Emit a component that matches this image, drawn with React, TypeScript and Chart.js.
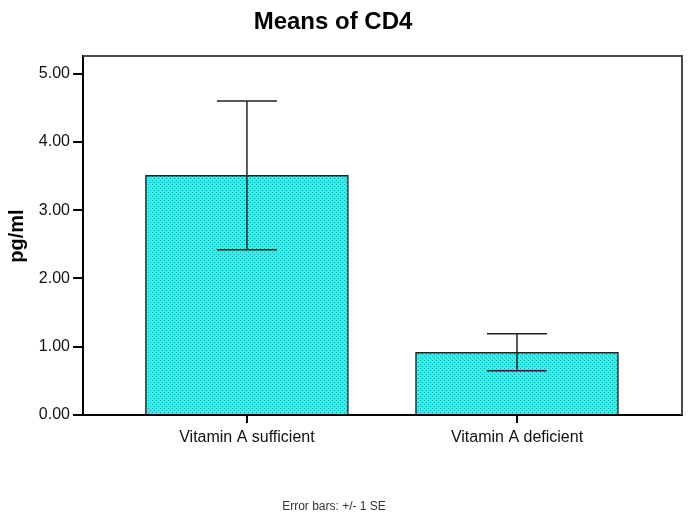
import React, { useEffect, useRef } from "react";
import { Chart, registerables } from "chart.js";

Chart.register(...registerables);

const categories = ["Vitamin A sufficient", "Vitamin A deficient"];
const means = [3.51, 0.92];
const standardErrors = [1.09, 0.27];
const yTicks = [0, 1, 2, 3, 4, 5];
const titleText = "Means of CD4";
const yTitleText = "pg/ml";
const footerText = "Error bars: +/- 1 SE";

const FONT = "Arial, 'Liberation Sans', sans-serif";

function makePattern(): CanvasPattern | string {
  const c = document.createElement("canvas");
  c.width = 4;
  c.height = 4;
  const ctx = c.getContext("2d");
  if (!ctx) return "#33ece8";
  ctx.fillStyle = "#33f0ec";
  ctx.fillRect(0, 0, 4, 4);
  ctx.fillStyle = "#1ca4a4";
  ctx.fillRect(0, 0, 1, 1);
  ctx.fillRect(2, 2, 1, 1);
  const p = ctx.createPattern(c, "repeat");
  return p || "#33ece8";
}

export default function App() {
  const ref = useRef<HTMLCanvasElement>(null);

  useEffect(() => {
    document.body.style.margin = "0";
    const canvas = ref.current;
    if (!canvas) return;

    const errorBars = {
      id: "errorBars",
      afterDatasetsDraw(chart: any) {
        const ctx = chart.ctx;
        const x = chart.scales.x;
        const y = chart.scales.y;
        ctx.save();
        ctx.strokeStyle = "#222";
        ctx.lineWidth = 1.5;
        means.forEach((m, i) => {
          const px = x.getPixelForValue(i + 1);
          const hi = y.getPixelForValue(m + standardErrors[i]);
          const lo = y.getPixelForValue(m - standardErrors[i]);
          ctx.beginPath();
          ctx.moveTo(px, hi);
          ctx.lineTo(px, lo);
          ctx.moveTo(px - 30, hi);
          ctx.lineTo(px + 30, hi);
          ctx.moveTo(px - 30, lo);
          ctx.lineTo(px + 30, lo);
          ctx.stroke();
        });
        ctx.restore();
      },
    };

    const decorations = {
      id: "decorations",
      afterDraw(chart: any) {
        const ctx = chart.ctx;
        const a = chart.chartArea;
        ctx.save();
        ctx.strokeStyle = "#4a4a4a";
        ctx.lineWidth = 2;
        ctx.beginPath();
        ctx.moveTo(a.left, a.top);
        ctx.lineTo(a.right, a.top);
        ctx.lineTo(a.right, a.bottom);
        ctx.stroke();
        ctx.fillStyle = "#000";
        ctx.textAlign = "center";
        ctx.textBaseline = "alphabetic";
        ctx.font = `bold 24px ${FONT}`;
        ctx.fillText(titleText, 333, 29);
        ctx.font = `12px ${FONT}`;
        ctx.fillStyle = "#333";
        ctx.fillText(footerText, 334, 510);
        ctx.translate(17, 236);
        ctx.rotate(-Math.PI / 2);
        ctx.fillStyle = "#000";
        ctx.font = `bold 20px ${FONT}`;
        ctx.textBaseline = "middle";
        ctx.fillText(yTitleText, 0, 0);
        ctx.restore();
      },
    };

    const chart = new Chart(canvas, {
      type: "bar",
      data: {
        datasets: [
          {
            data: means.map((m, i) => ({ x: i + 1, y: m })),
            backgroundColor: makePattern() as any,
            borderColor: "#222",
            borderWidth: 1.5,
            barThickness: 203,
          },
        ],
      },
      options: {
        animation: false,
        responsive: false,
        maintainAspectRatio: false,
        layout: { padding: { left: 0, top: 56, right: 6, bottom: 0 } },
        plugins: {
          legend: { display: false },
          tooltip: { enabled: false },
          title: { display: false },
        },
        scales: {
          x: {
            type: "linear",
            min: 0.393,
            max: 2.611,
            offset: false,
            afterFit(scale: any) {
              scale.height = 101;
            },
            afterBuildTicks(scale: any) {
              scale.ticks = categories.map((_, i) => ({ value: i + 1 }));
            },
            ticks: {
              callback: (v: any) => categories[Number(v) - 1] ?? "",
              color: "#111",
              font: { family: FONT, size: 16 },
              padding: 5,
              maxRotation: 0,
              autoSkip: false,
            },
            grid: {
              offset: false,
              drawOnChartArea: false,
              drawTicks: true,
              tickLength: 8,
              color: "#000",
              lineWidth: 2,
            },
            border: { display: true, color: "#000", width: 2 },
          },
          y: {
            type: "linear",
            min: 0,
            max: 5.26,
            afterFit(scale: any) {
              scale.width = 83;
            },
            afterBuildTicks(scale: any) {
              scale.ticks = yTicks.map((v) => ({ value: v }));
            },
            ticks: {
              callback: (v: any) => Number(v).toFixed(2),
              color: "#111",
              font: { family: FONT, size: 16 },
              padding: 3,
            },
            grid: {
              drawOnChartArea: false,
              drawTicks: true,
              tickLength: 10,
              color: "#000",
              lineWidth: 2,
            },
            border: { display: true, color: "#000", width: 2 },
          },
        },
      },
      plugins: [errorBars, decorations],
    });

    return () => chart.destroy();
  }, []);

  return (
    <div style={{ position: "absolute", left: 0, top: 0, width: 688, height: 516, background: "#fff" }}>
      <canvas ref={ref} width={688} height={516} style={{ width: 688, height: 516 }} />
    </div>
  );
}
